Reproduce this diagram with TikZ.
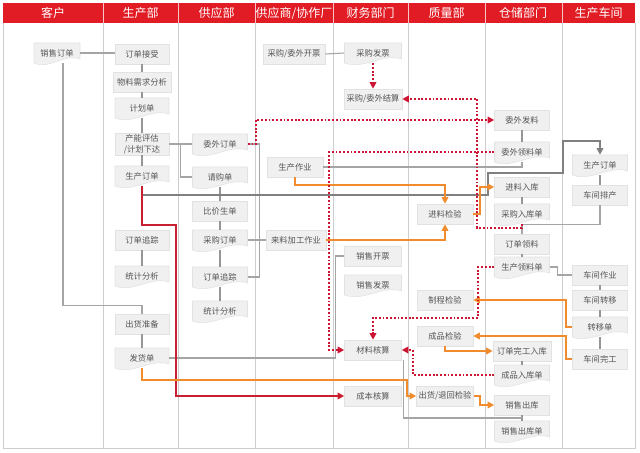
\documentclass[tikz,border=0pt]{standalone}
\usepackage{fontspec}
\newfontfamily\cjk{Noto Sans CJK SC}
\usetikzlibrary{arrows.meta,calc}
\definecolor{hred}{RGB}{226,28,36}
\definecolor{boxfill}{RGB}{240,240,240}
\definecolor{boxedge}{RGB}{226,226,226}
\definecolor{txt}{RGB}{85,85,85}
\definecolor{gline}{RGB}{165,165,165}
\definecolor{gchain}{RGB}{150,150,150}
\definecolor{gthick}{RGB}{128,128,128}
\definecolor{rthick}{RGB}{200,32,48}
\definecolor{rdot}{RGB}{205,20,50}
\definecolor{oline}{RGB}{240,140,45}
\definecolor{colline}{RGB}{205,205,205}
\newcommand\bnode[6][15pt]{\node[box,minimum width=#5*0.75pt,minimum height=#1] (#2) at (#3,#4) {#6};}
\newcommand\dnode[5]{%
  \filldraw[docshape] ({#2-#4/2},{#3-10}) -- ({#2+#4/2},{#3-10}) -- ({#2+#4/2},{#3+6})
    .. controls ({#2+#4/6},{#3}) and ({#2-#4/6},{#3+17}) .. ({#2-#4/2},{#3+10}) -- cycle;
  \node[doct,minimum width=#4*0.75pt] (#1) at (#2,#3) {#5};}
\begin{document}
\begin{tikzpicture}[x=0.75pt,y=-0.75pt,
  box/.style={fill=boxfill,draw=boxedge,line width=0.4pt,inner sep=1pt,align=center,
    font=\cjk\fontsize{6.2}{8}\selectfont,text=txt},
  doct/.style={minimum height=15pt,inner sep=1pt,font=\cjk\fontsize{6.2}{8}\selectfont,text=txt},
  docshape/.style={fill=boxfill,draw=boxedge,line width=0.4pt},
  htxt/.style={font=\cjk\fontsize{9}{10}\selectfont,text=white,inner sep=0pt},
  gl/.style={draw=gline,line width=0.8pt},
  ch/.style={draw=gchain,line width=1.3pt},
  gt/.style={draw=gthick,line width=1.6pt},
  rt/.style={draw=rthick,line width=1.6pt},
  ol/.style={draw=oline,line width=1.6pt},
  rd/.style={draw=rdot,line width=1.4pt,dash pattern=on 1.4pt off 1.4pt},
  tip/.style={-{Triangle[length=5pt,width=5pt]}}]
\fill[white] (0,0) rectangle (640,453);
\useasboundingbox (0,0) rectangle (640,453);
% frame and columns
\fill[hred] (3,3) rectangle (635,23);
\foreach \cx in {103,178,255,333,408,485,562}{
  \draw[colline,line width=0.6pt] (\cx,23) -- (\cx,448);
  \draw[white!75!hred,line width=0.6pt] (\cx,3) -- (\cx,23);}
\draw[colline,line width=0.6pt] (3,23) -- (3,448) -- (635,448) -- (635,23);
\node[htxt] (h1) at (53,13) {客户};
\node[htxt] (h2) at (140.5,13) {生产部};
\node[htxt] (h3) at (216.5,13) {供应部};
\node[htxt] (h4) at (294,13) {供应商/协作厂};
\node[htxt] (h5) at (370.5,13) {财务部门};
\node[htxt] (h6) at (446.5,13) {质量部};
\node[htxt] (h7) at (523,13) {仓储部门};
\node[htxt] (h8) at (598.5,13) {生产车间};
% customer
\dnode{sod}{57}{53}{46}{销售订单}
% production dept
\bnode{ojs}{142}{54}{54}{订单接受}
\bnode{wlx}{142}{82}{58}{物料需求分析}
\dnode{jhd}{142}{108}{54}{计划单}
\bnode[16.5pt]{cnpg}{142}{144}{54}{产能评估\\/计划下达}
\dnode{scdd1}{142}{176}{54}{生产订单}
\bnode{zz1}{142}{240}{54}{订单追踪}
\dnode{tj1}{142}{276}{54}{统计分析}
\bnode{chz}{142}{324}{54}{出货准备}
\dnode{fhd}{142}{358}{54}{发货单}
% supply dept
\dnode{wwdd}{220}{144}{55}{委外订单}
\dnode{qgd}{220}{177}{55}{请购单}
\bnode{bjsd}{220}{211}{55}{比价生单}
\dnode{cgdd}{220}{240}{55}{采购订单}
\dnode{zz2}{220}{277}{55}{订单追踪}
\dnode{tj2}{220}{311}{55}{统计分析}
% suppliers
\bnode{cgkp}{294}{54}{62}{采购/委外开票}
\bnode{sczy}{295}{167}{56}{生产作业}
\bnode{llj}{296}{240}{60}{来料加工作业}
% finance
\dnode{cgfp}{373}{53}{57}{采购发票}
\bnode{js}{373}{99}{58}{采购/委外结算}
\bnode{xskp}{373}{256}{57}{销售开票}
\dnode{xsfp}{373}{285}{57}{销售发票}
\bnode{clhs}{373}{350}{57}{材料核算}
\bnode{cbhs}{373}{396}{57}{成本核算}
% quality
\bnode{jljy}{445}{214}{56}{进料检验}
\bnode{zcjy}{445}{300}{56}{制程检验}
\bnode{cpjy}{445}{336}{56}{成品检验}
\bnode{chjy}{445}{396}{57}{出货/退回检验}
% warehouse
\bnode{wwfl}{522}{120}{55}{委外发料}
\dnode{wwlld}{522}{152}{55}{委外领料单}
\bnode{jlrk}{522}{187}{55}{进料入库}
\dnode{cgrkd}{522}{214}{55}{采购入库单}
\bnode{ddll}{522}{244}{55}{订单领料}
\dnode{scll}{522}{267}{55}{生产领料单}
\bnode{ddwg}{522}{351}{58}{订单完工入库}
\dnode{cprkd}{522}{375}{55}{成品入库单}
\bnode{xsck}{522}{405}{55}{销售出库}
\dnode{xsckd}{522}{431}{55}{销售出库单}
% workshop
\dnode{scdd2}{600}{165}{55}{生产订单}
\bnode{cjpc}{600}{195}{55}{车间排产}
\bnode{cjzy}{600}{275}{55}{车间作业}
\bnode{cjzyi}{600}{300}{55}{车间转移}
\dnode{zyd}{600}{327}{55}{转移单}
\bnode{cjwg}{600}{359}{55}{车间完工}
% chain connectors
\foreach \a/\b in {ojs/wlx,wlx/jhd,jhd/cnpg,cnpg/scdd1,zz1/tj1,chz/fhd,
  qgd/bjsd,bjsd/cgdd,cgdd/zz2,zz2/tj2,wwfl/wwlld,jlrk/cgrkd,ddll/scll,
  ddwg/cprkd,xsck/xsckd,scdd2/cjpc,cjzy/cjzyi,cjzyi/zyd,zyd/cjwg}
  \draw[ch] (\a.south) -- (\b.north);
% thin gray connectors
\draw[gl] (sod.east) -- (sod.east -| ojs.west);
\draw[gl] ([xshift=4.5pt]sod.south) -- ++(0,242) -| (chz.north);
\draw[gl] (cnpg.east) -- (wwdd.west);
\draw[gl] (cnpg.east) -- ++(11,0) |- (qgd.west);
\draw[gl] (wwdd.east) -- ++(12,0) |- (zz2.east);
\draw[gl] (cgdd.east) -- (llj.west);
\draw[gl] (cgkp.east) -- (cgfp.west);
\draw[gl] (sczy.east) -| (wwlld.south);
\draw[gl] (cjpc.south) -- ++(0,19) -| (ddll.north);
\draw[gl] (scll.east) -- ++(8,0) |- (cjzy.west);
\draw[gl] (fhd.east) -- ++(166,0) |- (xskp.west);
\draw[gl] ([xshift=1pt]clhs.south east) |- ($(xsck.south)!0.5!(xsckd.north)$);
% thick gray and red
\draw[gt,tip] (scdd1.south) |- (488,195) |- (563,173) |- (600,141) -- (scdd2.north);
\draw[rt,tip] (scdd1.south) |- (176,225) |- (cbhs.west);
% orange
\draw[ol,tip] (sczy.south) -- ++(0,8) -| (jljy.north);
\draw[ol,tip] (llj.east) -| (jljy.south);
\draw[ol,tip] (jljy.east) -- ++(7,0) |- (jlrk.west);
\draw[ol,tip] (zyd.west) -- ++(-6,0) |- (zcjy.east);
\draw[ol,tip] (cjwg.west) -- ++(-6,0) |- (cpjy.east);
\draw[ol,tip] (cpjy.south) |- (ddwg.west);
\draw[ol,tip] (fhd.south) |- (407,380) |- (chjy.west);
\draw[ol,tip] (chjy.east) -- ++(6,0) |- (xsck.west);
% red dotted
\draw[rd,tip] (cgfp.south) -- (js.north);
\draw[rd,tip] (cgrkd.south) |- (477,228) |- (js.east);
\draw[rd,tip] (wwdd.east) -- ++(8,0) |- (wwfl.west);
\draw[rd,tip] (wwlld.west) -| ($(clhs.west)+(-15,0)$) -- (clhs.west);
\draw[rd,tip] (scll.west) -- ++(-16,0) |- ($(clhs.north)+(0,-22)$) -- (clhs.north);
\draw[rd,tip] (cprkd.west) -| ($(clhs.east)+(11,0)$) -- (clhs.east);
\end{tikzpicture}
\end{document}
